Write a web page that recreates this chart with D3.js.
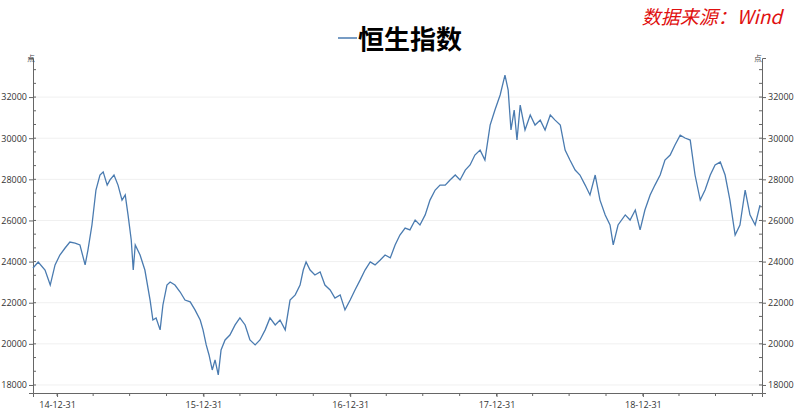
<!DOCTYPE html>
<html><head><meta charset="utf-8">
<script src="https://cdn.jsdelivr.net/npm/d3@7"></script>
<style>body{margin:0;background:#fff;font-family:"Noto Sans CJK SC","Open Sans",sans-serif}</style>
</head><body><div id="chart"></div>
<script>
// data
const dates = ["2014-11-01","2014-11-14","2014-12-01","2014-12-14","2014-12-26","2015-01-07","2015-01-20","2015-02-01","2015-02-14","2015-02-26","2015-03-11","2015-03-18","2015-03-28","2015-04-07","2015-04-17","2015-04-25","2015-05-05","2015-05-12","2015-05-22","2015-06-01","2015-06-11","2015-06-19","2015-06-26","2015-07-04","2015-07-09","2015-07-14","2015-07-26","2015-08-07","2015-08-20","2015-08-27","2015-09-04","2015-09-14","2015-09-21","2015-10-01","2015-10-09","2015-10-21","2015-11-03","2015-11-15","2015-11-28","2015-12-10","2015-12-23","2015-12-30","2016-01-07","2016-01-14","2016-01-22","2016-01-29","2016-02-06","2016-02-13","2016-02-23","2016-03-06","2016-03-19","2016-03-31","2016-04-13","2016-04-25","2016-05-08","2016-05-20","2016-06-02","2016-06-14","2016-06-27","2016-07-09","2016-07-22","2016-08-03","2016-08-16","2016-08-28","2016-09-05","2016-09-12","2016-09-22","2016-10-04","2016-10-17","2016-10-29","2016-11-11","2016-11-23","2016-12-06","2016-12-18","2016-12-31","2017-01-12","2017-01-25","2017-02-06","2017-02-19","2017-03-03","2017-03-16","2017-03-28","2017-04-10","2017-04-22","2017-05-04","2017-05-17","2017-05-29","2017-06-11","2017-06-23","2017-07-06","2017-07-18","2017-07-31","2017-08-12","2017-08-25","2017-09-06","2017-09-19","2017-10-01","2017-10-14","2017-10-26","2017-11-07","2017-11-20","2017-12-02","2017-12-15","2017-12-27","2018-01-09","2018-01-21","2018-01-29","2018-02-05","2018-02-13","2018-02-20","2018-02-28","2018-03-12","2018-03-25","2018-04-06","2018-04-19","2018-05-01","2018-05-14","2018-05-26","2018-06-08","2018-06-20","2018-07-02","2018-07-15","2018-07-27","2018-08-09","2018-08-21","2018-09-03","2018-09-15","2018-09-28","2018-10-10","2018-10-18","2018-10-30","2018-11-17","2018-11-29","2018-12-12","2018-12-24","2019-01-05","2019-01-18","2019-01-30","2019-02-12","2019-02-24","2019-03-09","2019-03-21","2019-04-03","2019-04-15","2019-04-28","2019-05-10","2019-05-23","2019-06-04","2019-06-17","2019-06-29","2019-07-12","2019-07-24","2019-08-05","2019-08-18","2019-08-30","2019-09-12","2019-09-24","2019-10-07","2019-10-19"];
const hsi = [23690,23980,23590,22860,23840,24320,24660,24950,24900,24810,23840,24560,25780,27480,28210,28360,27720,27970,28210,27720,26990,27240,26270,25050,23590,24810,24320,23590,22130,21160,21260,20680,21890,22860,23010,22860,22520,22130,22040,21650,21160,20680,19950,19460,18730,19220,18490,19700,20190,20430,20920,21260,20920,20190,19950,20190,20680,21260,20920,21160,20680,22130,22380,22860,23590,23980,23590,23350,23500,22860,22620,22230,22380,21650,22130,22620,23110,23590,23980,23840,24080,24320,24180,24810,25290,25630,25540,26020,25780,26270,26990,27480,27720,27720,27970,28210,27970,28450,28700,29180,29420,28940,30640,31370,32100,33070,32340,30400,31370,29910,31610,30400,31130,30640,30880,30400,31130,30880,30640,29420,28940,28450,28210,27720,27240,28210,26990,26270,25780,24810,25780,26270,26020,26510,25540,26510,27240,27720,28210,28940,29180,29670,30150,30010,29910,28210,26990,27480,28210,28700,28840,28210,26990,25290,25780,27480,26270,25780,26750];
const yTicks = [18000,20000,22000,24000,26000,28000,30000,32000];
const xTickLabels = ["14-12-31","15-12-31","16-12-31","17-12-31","18-12-31"];
const seriesName = "恒生指数";

const W = 796, H = 417;
const m = {l: 33, r: 34, t: 58, b: 24};
const parse = d3.timeParse("%Y-%m-%d");
const pts = dates.map((d, i) => ({date: parse(d), v: hsi[i]}));

const svg = d3.select("#chart").append("svg").attr("width", W).attr("height", H);

const x = d3.scaleTime()
  .domain([parse("2014-11-01"), parse("2019-10-24")])
  .range([m.l, W - m.r]);
const y = d3.scaleLinear().domain([17610, 33900]).range([H - m.b, m.t]);

// faint grid
svg.append("g").selectAll("line").data(yTicks).join("line")
  .attr("x1", m.l).attr("x2", W - m.r)
  .attr("y1", d => y(d)).attr("y2", d => y(d))
  .attr("stroke", "#f0f0f0");

const minorY = d3.range(18000 - 2000 / 3, 34000, 2000 / 3).filter(v => v > 17610 && v < 33900);
const majorX = xTickLabels.map(s => parse("20" + s));
const minorX = d3.timeMonth.every(3).range(parse("2014-11-01"), parse("2019-10-24"))
  .map(d => d3.timeDay.offset(d, -1));

function yAxis(g, orient) {
  const ax = orient === "left" ? d3.axisLeft(y) : d3.axisRight(y);
  g.call(ax.tickValues(yTicks).tickFormat(d3.format("d")).tickSize(4).tickPadding(2));
  const dir = orient === "left" ? 1 : -1;
  g.selectAll(".minor").data(minorY).join("line").attr("class", "minor")
    .attr("x1", 0).attr("x2", 3 * dir).attr("y1", d => y(d)).attr("y2", d => y(d))
    .attr("stroke", "#666");
  g.append("text").attr("x", orient === "left" ? 2 : -8).attr("y", m.t + 3)
    .attr("fill", "#444").attr("font-size", 8).text("点");
}

svg.append("g").attr("transform", `translate(${m.l},0)`).call(yAxis, "left");
svg.append("g").attr("transform", `translate(${W - m.r},0)`).call(yAxis, "right");

const xg = svg.append("g").attr("transform", `translate(0,${H - m.b})`)
  .call(d3.axisBottom(x).tickValues(majorX).tickFormat((d, i) => xTickLabels[i]).tickSize(4).tickPadding(5));
xg.selectAll(".minor").data(minorX).join("line").attr("class", "minor")
  .attr("x1", d => x(d)).attr("x2", d => x(d)).attr("y1", 0).attr("y2", 3).attr("stroke", "#666");

svg.selectAll(".domain, .tick line").attr("stroke", "#666");
svg.selectAll(".tick text").attr("fill", "#333").attr("font-size", 9)
  .attr("font-family", "'Open Sans',sans-serif");

svg.append("path").datum(pts)
  .attr("fill", "none").attr("stroke", "#4a7bb0").attr("stroke-width", 1.3)
  .attr("d", d3.line().x(d => x(d.date)).y(d => y(d.v)));

// title with legend swatch
svg.append("line").attr("x1", 338).attr("x2", 357).attr("y1", 38).attr("y2", 38)
  .attr("stroke", "#4a7bb0").attr("stroke-width", 1.5);
svg.append("text").attr("x", 358).attr("y", 49).attr("font-size", 26).attr("font-weight", "bold")
  .attr("fill", "#000").text(seriesName);

svg.append("text").attr("x", 782).attr("y", 24).attr("text-anchor", "end")
  .attr("font-size", 19).attr("font-style", "italic").attr("fill", "#e01010")
  .text("数据来源：Wind");
</script></body></html>
